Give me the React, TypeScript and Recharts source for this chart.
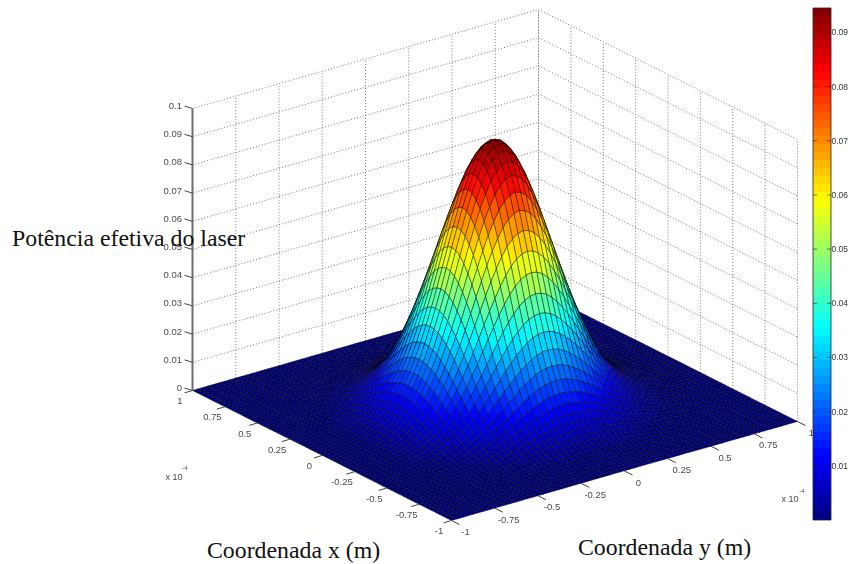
import React from 'react'
import { Bar, BarChart, Scatter, ScatterChart, XAxis, YAxis } from 'recharts'

// height along one mesh line through the middle of the beam (edge to edge)
const surfaceProfile = [
  0.0001, 0.0001, 0.0002, 0.0003, 0.0004, 0.0006, 0.0009, 0.0012, 0.0017, 0.0024, 0.0033, 0.0044,
  0.0058, 0.0077, 0.0099, 0.0127, 0.0159, 0.0198, 0.0242, 0.0292, 0.0348, 0.0407, 0.047, 0.0538,
  0.0606, 0.0672, 0.0736, 0.0794, 0.0845, 0.0888, 0.0919, 0.0938,
  0.0945,
  0.0938, 0.0919, 0.0888, 0.0845, 0.0794, 0.0736, 0.0672, 0.0606, 0.0538, 0.047, 0.0407, 0.0348,
  0.0292, 0.0242, 0.0198, 0.0159, 0.0127, 0.0099, 0.0077, 0.0058, 0.0044, 0.0033, 0.0024, 0.0017,
  0.0012, 0.0009, 0.0006, 0.0004, 0.0003, 0.0002, 0.0001, 0.0001,
]
const xTicks = [1, 0.75, 0.5, 0.25, 0, -0.25, -0.5, -0.75, -1]
const yTicks = [-1, -0.75, -0.5, -0.25, 0, 0.25, 0.5, 0.75, 1]
const zTicks = [0, 0.01, 0.02, 0.03, 0.04, 0.05, 0.06, 0.07, 0.08, 0.09, 0.1]
const colorbarTicks = [0.01, 0.02, 0.03, 0.04, 0.05, 0.06, 0.07, 0.08, 0.09]
const colorMax = 0.0945

const WIDTH = 848
const HEIGHT = 564

// view of the 3D box on the page
const project = (x: number, y: number, z: number) => ({
  sx: 495 - 129.5 * x + 173 * y,
  sy: 406 - 65 * x - 49.5 * y - 2820 * z,
})

const clamp = (v: number) => Math.max(0, Math.min(1, v))
const jet = (value: number) => {
  const t = (Math.min(63, Math.floor((value / colorMax) * 64)) + 0.5) / 64
  const r = Math.round(255 * clamp(1.5 - Math.abs(4 * t - 3)))
  const g = Math.round(255 * clamp(1.5 - Math.abs(4 * t - 2)))
  const b = Math.round(255 * clamp(1.5 - Math.abs(4 * t - 1)))
  return `rgb(${r},${g},${b})`
}

const grid = surfaceProfile.map((_, i) => -1 + (2 * i) / (surfaceProfile.length - 1))
const height = (i: number, j: number) => (surfaceProfile[i] * surfaceProfile[j]) / colorMax

// cells go back to front so the near ones cover the far ones
const cells: any[] = []
for (let i = grid.length - 2; i >= 0; i--) {
  for (let j = grid.length - 2; j >= 0; j--) {
    const corners = [
      [i, j],
      [i + 1, j],
      [i + 1, j + 1],
      [i, j + 1],
    ]
    const pts = corners.map(([a, b]) => project(grid[a], grid[b], height(a, b)))
    const mean = corners.reduce((s, [a, b]) => s + height(a, b), 0) / 4
    cells.push({
      ...pts[0],
      fill: jet(mean),
      corners: pts.map((p) => [p.sx - pts[0].sx, p.sy - pts[0].sy]),
    })
  }
}

const wallLines: any[][] = [
  ...yTicks.map((y) => [project(1, y, 0), project(1, y, 0.1)]),
  ...xTicks.map((x) => [project(x, 1, 0), project(x, 1, 0.1)]),
  ...zTicks.map((z) => [project(1, -1, z), project(1, 1, z), project(-1, 1, z)]),
]

const tickMarks: any[][] = [
  ...xTicks.map((x) => {
    const a = project(x, -1, 0)
    return [a, { sx: a.sx - 8, sy: a.sy + 2.4 }]
  }),
  ...yTicks.map((y) => {
    const a = project(-1, y, 0)
    return [a, { sx: a.sx + 8, sy: a.sy + 4 }]
  }),
  ...zTicks.map((z) => {
    const a = project(1, -1, z)
    return [a, { sx: a.sx - 8, sy: a.sy - 2.4 }]
  }),
]

const tickLabels = [
  ...xTicks.map((x) => {
    const a = project(x, -1, 0)
    return { sx: a.sx - 12.5, sy: a.sy + 10, text: String(x), anchor: 'middle' }
  }),
  ...yTicks.map((y) => {
    const a = project(-1, y, 0)
    return { sx: a.sx + 14, sy: a.sy + 11, text: String(y), anchor: 'middle' }
  }),
  ...zTicks.map((z) => {
    const a = project(1, -1, z)
    return { sx: 182, sy: a.sy - 3, text: String(z), anchor: 'end' }
  }),
]

const exponentLabels = [
  { sx: 174, sy: 477, text: 'x 10', size: 9 },
  { sx: 185, sy: 468, text: '-4', size: 6 },
  { sx: 790, sy: 499, text: 'x 10', size: 9 },
  { sx: 802, sy: 491, text: '-4', size: 6 },
]

const axisTitles = [
  { sx: 12, sy: 246, text: 'Potência efetiva do laser' },
  { sx: 207, sy: 558, text: 'Coordenada x (m)' },
  { sx: 578, sy: 555, text: 'Coordenada y (m)' },
]

const colorLevels = Array.from({ length: 64 }, (_, i) => (colorMax * (i + 0.5)) / 64)
const colorbarData = [{ name: 'potencia', value: colorMax }]

const CellShape = (props: any) => {
  const { cx, cy, payload } = props
  const points = payload.corners.map(([dx, dy]: number[]) => `${cx + dx},${cy + dy}`).join(' ')
  return (
    <polygon
      points={points}
      fill={payload.fill}
      stroke="#000"
      strokeWidth={0.55}
      strokeOpacity={0.75}
      strokeLinejoin="round"
    />
  )
}

const NoDot = () => <g />

const TickLabel = (props: any) => {
  const { cx, cy, payload } = props
  return (
    <text
      x={cx}
      y={cy}
      textAnchor={payload.anchor ?? 'middle'}
      dominantBaseline="central"
      fontFamily="'Liberation Sans', Arial, sans-serif"
      fontSize={payload.size ?? 9.5}
      fill="#4a4a4a"
    >
      {payload.text}
    </text>
  )
}

const AxisTitle = (props: any) => {
  const { cx, cy, payload } = props
  return (
    <text x={cx} y={cy} fontFamily="'Liberation Serif', 'Times New Roman', serif" fontSize={23.8} fill="#111">
      {payload.text}
    </text>
  )
}

const ColorbarTick = (props: any) => {
  const { x, y, payload } = props
  return (
    <g>
      <line x1={x - 18} x2={x - 14} y1={y} y2={y} stroke="#222" strokeOpacity={0.6} />
      <line x1={x - 4} x2={x} y1={y} y2={y} stroke="#222" strokeOpacity={0.6} />
      <text
        x={x + 0.5}
        y={y}
        dominantBaseline="central"
        fontFamily="'Liberation Sans', Arial, sans-serif"
        fontSize={8.5}
        fill="#333"
      >
        {String(payload.value)}
      </text>
    </g>
  )
}

const PageAxes = () => (
  <>
    <XAxis type="number" dataKey="sx" domain={[0, WIDTH]} hide />
    <YAxis type="number" dataKey="sy" domain={[0, HEIGHT]} reversed hide />
  </>
)

const page: React.CSSProperties = { position: 'absolute', left: 0, top: 0 }

export default function App() {
  const zLow = project(1, -1, 0)
  const zHigh = project(1, -1, 0.1)
  return (
    <div style={{ ...page, width: WIDTH, height: HEIGHT, background: '#fff', overflow: 'hidden' }}>
      <div style={{ ...page, filter: 'blur(0.45px)' }}>
        <ScatterChart width={WIDTH} height={HEIGHT} margin={{ top: 0, right: 0, bottom: 0, left: 0 }}>
          {PageAxes()}
          {wallLines.map((pts, i) => (
            <Scatter
              key={`wall-${i}`}
              data={pts}
              line={{ stroke: '#777', strokeWidth: 1, strokeDasharray: '1 2' }}
              shape={NoDot}
              isAnimationActive={false}
            />
          ))}
          <Scatter data={cells} shape={CellShape} isAnimationActive={false} />
          <Scatter
            data={[zLow, zHigh]}
            line={{ stroke: '#6e6e6e', strokeWidth: 2 }}
            shape={NoDot}
            isAnimationActive={false}
          />
          {tickMarks.map((pts, i) => (
            <Scatter
              key={`tick-${i}`}
              data={pts}
              line={{ stroke: '#444', strokeWidth: 1 }}
              shape={NoDot}
              isAnimationActive={false}
            />
          ))}
          <Scatter data={tickLabels} shape={TickLabel} isAnimationActive={false} />
          <Scatter data={exponentLabels} shape={TickLabel} isAnimationActive={false} />
        </ScatterChart>
      </div>
      <div style={{ ...page, left: 800, filter: 'blur(0.45px)' }}>
        <BarChart
          width={48}
          height={HEIGHT}
          data={colorbarData}
          barCategoryGap={0}
          margin={{ top: 8, right: 0, bottom: 44, left: 13 }}
        >
          <defs>
            <linearGradient id="jetBar" x1="0" y1="1" x2="0" y2="0">
              {colorLevels.flatMap((v, i) => [
                <stop key={`a${i}`} offset={i / 64} stopColor={jet(v)} />,
                <stop key={`b${i}`} offset={(i + 1) / 64} stopColor={jet(v)} />,
              ])}
            </linearGradient>
          </defs>
          <XAxis dataKey="name" hide />
          <YAxis
            orientation="right"
            width={17}
            domain={[0, colorMax]}
            ticks={colorbarTicks}
            axisLine={false}
            tickLine={false}
            tickSize={0}
            tickMargin={0}
            interval={0}
            tick={ColorbarTick}
          />
          <Bar dataKey="value" fill="url(#jetBar)" stroke="#222" strokeWidth={0.8} isAnimationActive={false} />
        </BarChart>
      </div>
      <div style={page}>
        <ScatterChart width={WIDTH} height={HEIGHT} margin={{ top: 0, right: 0, bottom: 0, left: 0 }}>
          {PageAxes()}
          <Scatter data={axisTitles} shape={AxisTitle} isAnimationActive={false} />
        </ScatterChart>
      </div>
    </div>
  )
}
